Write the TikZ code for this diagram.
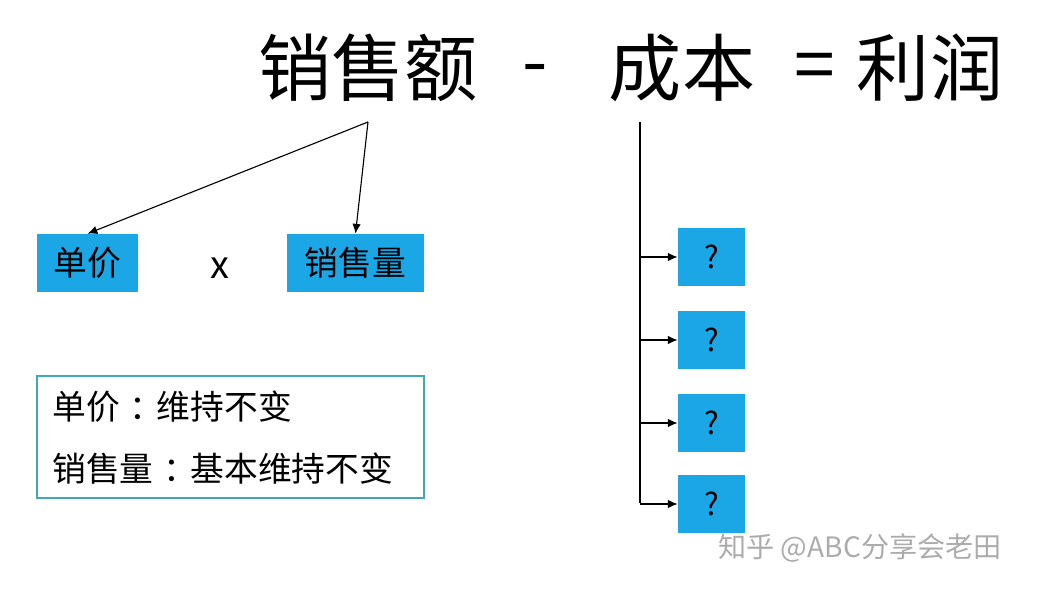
\documentclass[tikz,border=0pt]{standalone}
\usepackage{fontspec}
\setmainfont{Noto Sans CJK SC}
\usetikzlibrary{arrows.meta}
\definecolor{boxblue}{HTML}{1BA6E6}
\definecolor{frame}{HTML}{3FA9B5}
\tikzset{
  blue box/.style={draw=none, fill=boxblue, inner sep=0pt, font=\fontsize{24}{28}\selectfont},
  qbox/.style={blue box, minimum width=1.675cm, minimum height=1.45cm, font=\fontsize{22}{26}\selectfont},
  big/.style={font=\fontsize{52}{60}\selectfont, inner sep=0pt},
  note text/.style={anchor=west, inner sep=0pt, font=\fontsize{24}{28}\selectfont},
  branch/.style={thick, -{Latex[length=7pt,width=6pt]}}
}
\newcommand\fwcolon{\hspace{0.3em}：\hspace{-0.2em}}
\begin{document}
\begin{tikzpicture}[x=0.025cm, y=-0.025cm]
    \useasboundingbox (0,0) rectangle (1040,593);
    % title formula
    \node[big] (sales) at (368,68) {销售额};
    \node[big] (minus) at (535,76) {-};
    \node[big] (cost) at (682,68) {成本};
    \node[big] (eq) at (815,72) {=};
    \node[big] (profit) at (930,68) {利润};
    % left branch
    \coordinate (split) at (368,122);
    \node[blue box, minimum width=2.525cm, minimum height=1.45cm] (price) at (87.5,263) {单价};
    \node[font=\fontsize{27}{30}\selectfont] (times) at (220,268) {x};
    \node[blue box, minimum width=3.425cm, minimum height=1.45cm] (volume) at (355.5,263) {销售量};
    \draw[branch] (split) -- (price.north);
    \draw[branch] (split) -- (volume.north);
    \node[draw=frame, line width=1pt, minimum width=9.675cm, minimum height=3.05cm] (note) at (230.5,437) {};
    \node[note text] (note1) at (52,407) {单价\fwcolon 维持不变};
    \node[note text] (note2) at (52,469) {销售量\fwcolon 基本维持不变};
    % right branch
    \coordinate (top) at (640,122);
    \coordinate (bottom) at (640,503);
    \draw[thick] (top) -- (bottom);
    \foreach \i/\y in {1/257,2/340,3/423,4/504} {
        \node[qbox] (q\i) at (711.5,\y) {?};
        \draw[branch] (640,\y) -- (q\i.west);
    }
    \node[text=gray!65, font=\fontsize{20}{24}\selectfont] (mark) at (860,548) {知乎 @ABC分享会老田};
\end{tikzpicture}
\end{document}
